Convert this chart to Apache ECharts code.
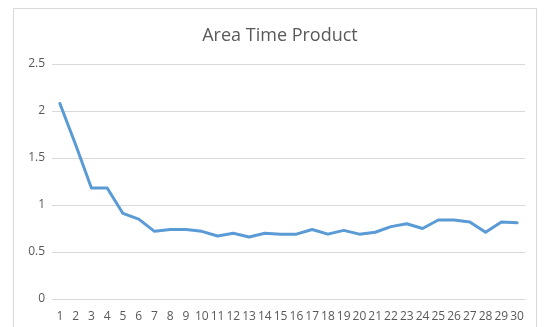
<!DOCTYPE html>
<html>
<head>
<meta charset="utf-8">
<script src="https://cdn.jsdelivr.net/npm/echarts@6/dist/echarts.min.js"></script>
<style>
  html, body { margin: 0; padding: 0; background: #fff; }
  #chart { width: 546px; height: 327px; }
</style>
</head>
<body>
<div id="chart"></div>
<script>
// Trial index 1..30 along the horizontal axis
const categories = Array.from({ length: 30 }, (_, i) => String(i + 1));
// Area time product measured at each trial
const areaTimeProduct = [
  2.08, 1.64, 1.18, 1.18, 0.91, 0.85, 0.72, 0.74, 0.74, 0.72,
  0.67, 0.70, 0.66, 0.70, 0.69, 0.69, 0.74, 0.69, 0.73, 0.69,
  0.71, 0.77, 0.80, 0.75, 0.84, 0.84, 0.82, 0.71, 0.82, 0.81
];
const yTicks = { min: 0, max: 2.5, interval: 0.5 };

const chart = echarts.init(document.getElementById('chart'));
chart.setOption({
  animation: false,
  backgroundColor: '#ffffff',
  graphic: [{
    type: 'rect',
    shape: { x: 13.5, y: 8.5, width: 523, height: 330 },
    style: { fill: 'none', stroke: '#d9d9d9', lineWidth: 1 },
    silent: true
  }],
  title: {
    text: 'Area Time Product',
    left: 275,
    textAlign: 'center',
    top: 22,
    textStyle: { fontFamily: 'Open Sans, sans-serif', fontSize: 18, fontWeight: 'normal', color: '#595959' }
  },
  grid: { left: 52, right: 21, top: 64, bottom: 28 },
  xAxis: {
    type: 'category',
    data: categories,
    boundaryGap: true,
    axisLine: { lineStyle: { color: '#d9d9d9' } },
    axisTick: { show: false },
    axisLabel: { color: '#595959', fontSize: 12, fontFamily: 'Open Sans, sans-serif', interval: 0, margin: 12 }
  },
  yAxis: {
    type: 'value',
    min: yTicks.min, max: yTicks.max, interval: yTicks.interval,
    axisLine: { show: false },
    axisTick: { show: false },
    splitLine: { lineStyle: { color: '#d9d9d9' } },
    axisLabel: { color: '#595959', fontSize: 12, fontFamily: 'Open Sans, sans-serif', margin: 7 }
  },
  series: [{
    type: 'line',
    data: areaTimeProduct,
    symbol: 'none',
    lineStyle: { color: '#5b9bd5', width: 3, join: 'round', cap: 'round' }
  }]
});
</script>
</body>
</html>
